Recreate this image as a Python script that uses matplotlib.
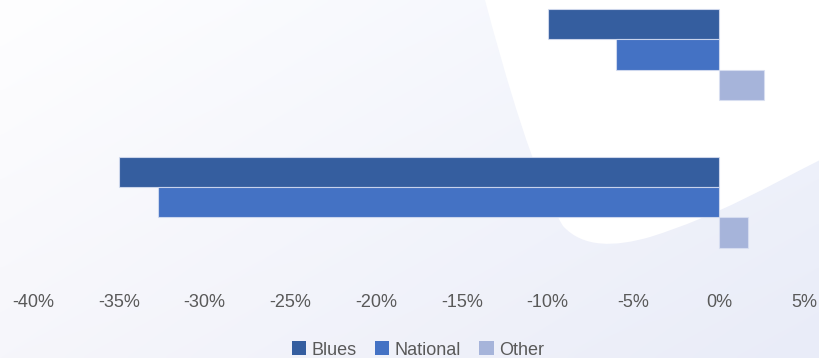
import numpy as np
import matplotlib
matplotlib.use("Agg")
import matplotlib.pyplot as plt
from matplotlib.path import Path
from matplotlib.patches import PathPatch, Patch

# Data
categories = ["Group A", "Group B"]
series_names = ["Blues", "National", "Other"]
blues = [-10.0, -35.0]
national = [-6.0, -32.7]
other = [2.6, 1.7]
x_ticks = [-40, -35, -30, -25, -20, -15, -10, -5, 0, 5]
x_tick_labels = [f"{t}%" for t in x_ticks]

colors = ["#355E9F", "#4472C4", "#A6B4DA"]
text_gray = "#595959"

W, H = 820, 358
dpi = 100
plt.rcParams["font.family"] = ["Liberation Sans", "DejaVu Sans"]

fig = plt.figure(figsize=(W / dpi, H / dpi), dpi=dpi)

# Soft diagonal gradient background
bg = fig.add_axes([0, 0, 1, 1])
bg.set_axis_off()
xx, yy = np.meshgrid(np.linspace(0, 1, 200), np.linspace(0, 1, 100))
top_left = np.array([254, 254, 255]) / 255
dx = np.array([-13, -10, -3]) / 255
dy = np.array([-8, -8, -4]) / 255
img = top_left + xx[..., None] * dx + yy[..., None] * dy
bg.imshow(np.clip(img, 0, 1), extent=[0, W, H, 0], aspect="auto", interpolation="bicubic")
bg.set_xlim(0, W)
bg.set_ylim(H, 0)

# White curved panel on the right
verts = [(485, 0),
         (505, 75), (535, 180), (563, 226),
         (583, 248), (615, 247), (650, 237),
         (720, 215), (770, 185), (820, 160),
         (820, 0), (485, 0)]
codes = [Path.MOVETO,
         Path.CURVE4, Path.CURVE4, Path.CURVE4,
         Path.CURVE4, Path.CURVE4, Path.CURVE4,
         Path.CURVE4, Path.CURVE4, Path.CURVE4,
         Path.LINETO, Path.CLOSEPOLY]
bg.add_patch(PathPatch(Path(verts, codes), facecolor="white", edgecolor="none"))

# Bar chart
left = 33.3 / W
right = 804.7 / W
bottom = 1 - 275.9 / H
top = 1 + 19.1 / H
ax = fig.add_axes([left, bottom, right - left, top - bottom])
ax.patch.set_alpha(0)

y = np.arange(len(categories))
h = 0.206
for i, (vals, col, name) in enumerate(zip([blues, national, other], colors, series_names)):
    ax.barh(y + (i - 1) * h, vals, height=h, color=col, label=name,
            edgecolor=(0.85, 0.88, 0.95, 0.8), linewidth=0.8)

ax.set_xlim(-40, 5)
ax.set_ylim(1.5, -0.5)
ax.set_xticks(x_ticks)
ax.set_xticklabels(x_tick_labels)
ax.set_yticks([])
ax.tick_params(axis="x", length=0, pad=13, labelsize=13, labelcolor=text_gray)
for s in ax.spines.values():
    s.set_visible(False)

handles = [Patch(facecolor=c, edgecolor="none") for c in colors]
fig.legend(handles, series_names, loc="center", ncol=3,
           bbox_to_anchor=(418 / W, 1 - 350 / H), frameon=False,
           fontsize=13, labelcolor=text_gray,
           handlelength=0.8, handleheight=0.8, handletextpad=0.3,
           columnspacing=1.0, borderaxespad=0, borderpad=0)

fig.savefig("out.png", dpi=dpi)
